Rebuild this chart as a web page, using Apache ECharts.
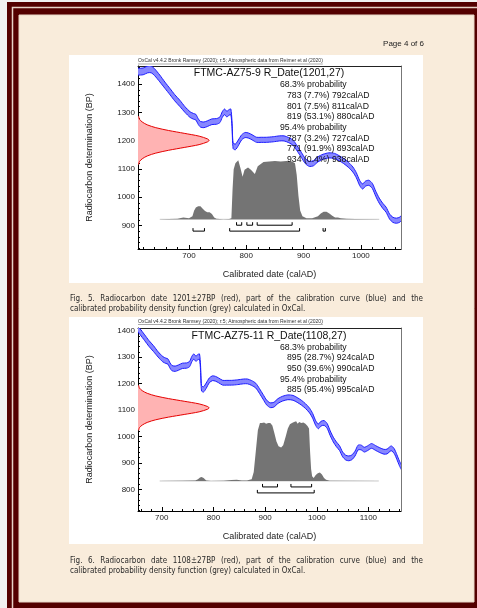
<!DOCTYPE html>
<html><head><meta charset="utf-8">
<script src="https://cdn.jsdelivr.net/npm/echarts@6/dist/echarts.min.js"></script>
<style>html,body{margin:0;padding:0;background:#f1f1f1}#c{width:477px;height:608px}</style>
</head><body><div id="c"></div>
<script>
// ---------------- data ----------------
// IntCal20 calibration curve (calAD, BP, 1-sigma half width)
const calYears = [605,611,620,628,634,640,649,658,667,675,684,693,702,708,712,716,720,726,732,740,748,754,758,762,766,770,773,775,777,781,786,792,798,804,810,818,826,835,847,858,866,874,882,889,896,903,910,917,925,934,944,954,962,970,978,986,992,998,1003,1008,1014,1020,1026,1032,1038,1044,1050,1056,1062,1068,1074,1080,1086,1092,1098,1106,1114,1122,1130,1136,1144,1150,1155,1160,1166];
const calBP    = [1446,1444,1445,1452,1452,1442,1420,1396,1373,1352,1332,1310,1292,1286,1283,1268,1258,1256,1260,1267,1268,1274,1292,1302,1294,1300,1302,1260,1182,1178,1192,1212,1220,1218,1212,1203,1203,1203,1205,1208,1208,1202,1192,1172,1150,1128,1118,1120,1134,1143,1148,1146,1138,1128,1115,1098,1078,1050,1038,1048,1051,1040,1012,988,970,956,932,920,917,921,935,958,958,950,955,964,956,948,942,943,955,944,922,898,875];
const calSigma = [12,12,12,12,12,12,12,11,11,11,11,10,10,10,10,10,10,10,10,10,10,10,10,10,10,10,10,10,10,10,10,9,9,9,9,9,9,9,9,9,9,9,9,9,9,9,9,9,9,9,9,9,9,9,9,9,9,9,9,9,9,9,9,9,9,9,9,9,9,9,9,9,9,9,9,9,9,9,9,9,9,9,9,9,9];

const dates = [1201, 1108];
const redOffsets = [-85,-75,-65,-55,-45,-35,-25,-15,-5,0,5,15,25,35,45,55,65,75,85];
const redDensity = [0.01,0.02,0.06,0.13,0.25,0.43,0.65,0.86,0.98,1,0.98,0.86,0.65,0.43,0.25,0.13,0.06,0.02,0.01];

// calibrated probability (grey), relative heights
const grey1Years = [649,680,690,700,706,709,712,716,720,724,728,732,736,740,744,748,760,770,774,776,778,781,786,790,793.5,797,803,808,815,820,830,840,850,860,870,880,885,888,891,894,898,905,915,925,930,935,940,945,950,955,960,965,975,990,1032];
const grey1Dens  = [0,0.01,0.03,0.02,0.05,0.15,0.2,0.22,0.22,0.18,0.14,0.12,0.12,0.09,0.03,0.01,0,0.005,0.02,0.5,0.85,0.95,1.0,0.86,0.72,0.84,0.88,0.84,0.77,0.9,0.97,0.98,0.99,0.98,0.99,0.98,0.95,0.75,0.4,0.15,0.05,0.02,0.02,0.05,0.1,0.13,0.13,0.1,0.06,0.03,0.03,0.02,0.01,0.005,0];
const grey2Years = [696,740,765,770,774,777,781,786,795,820,835,845,855,865,870,874,878,882,886,890,894,898,902,906,910,914,918,922,926,931,935,940,944,948,952,956,960,963,966,970,974,978,982,985,987,989,991,994,998,1002,1006,1010,1014,1018,1025,1120];
const grey2Dens  = [0,0.005,0.01,0.03,0.06,0.065,0.05,0.01,0,0.005,0.015,0.02,0.01,0.01,0.02,0.03,0.15,0.5,0.85,0.97,0.97,0.98,0.96,0.97,0.97,0.93,0.8,0.66,0.58,0.56,0.6,0.75,0.88,0.95,0.97,0.99,1.0,0.96,0.99,0.97,0.98,0.96,0.92,0.88,0.5,0.2,0.08,0.05,0.1,0.13,0.14,0.11,0.05,0.02,0.005,0];

// calibrated ranges [from, to]
const ranges1_68 = [[783,792],[801,811],[819,880]];
const ranges1_95 = [[707,727],[771,893],[934,938]];
const ranges2_68 = [[895,924],[950,990]];
const ranges2_95 = [[885,995]];

// tick labels
const xTicks1 = [700,800,900,1000];
const yTicks1 = [900,1000,1100,1200,1300,1400];
const xTicks2 = [700,800,900,1000,1100];
const yTicks2 = [800,900,1000,1100,1200,1300,1400];

// texts
const headerText = 'OxCal v4.4.2 Bronk Ramsey (2020); r:5; Atmospheric data from Reimer et al (2020)';
const titles = ['FTMC-AZ75-9 R_Date(1201,27)', 'FTMC-AZ75-11 R_Date(1108,27)'];
const probLines1 = [['68.3% probability',0],['783 (7.7%) 792calAD',1],['801 (7.5%) 811calAD',1],['819 (53.1%) 880calAD',1],['95.4% probability',0],['787 (3.2%) 727calAD',1],['771 (91.9%) 893calAD',1],['934 (0.4%) 938calAD',1]];
const probLines2 = [['68.3% probability',0],['895 (28.7%) 924calAD',1],['950 (39.6%) 990calAD',1],['95.4% probability',0],['885 (95.4%) 995calAD',1]];
const captions = [
  ['Fig. 5. Radiocarbon date 1201±27BP (red), part of the calibration curve (blue) and the', 'calibrated probability density function (grey) calculated in OxCal.'],
  ['Fig. 6. Radiocarbon date 1108±27BP (red), part of the calibration curve (blue) and the', 'calibrated probability density function (grey) calculated in OxCal.']
];
const pageLabel = 'Page 4 of 6';

// ---------------- layout / style ----------------
const FC = '"Liberation Sans", Arial, sans-serif';
const FCAP = '"DejaVu Sans Condensed", "Liberation Sans Narrow", "DejaVu Sans", sans-serif';
const meas = document.createElement('canvas').getContext('2d');
function tw(t, size, fam) { meas.font = size + 'px ' + fam; return meas.measureText(t).width; }

const panels = [
  { top: 66, xMin: 611, xMax: 1070, yMin: 817, yMax: 1464, gMin: -0.503, gMax: 2.598,
    xTicks: xTicks1, yTicks: yTicks1, date: dates[0], gy: grey1Years, gd: grey1Dens,
    r68: ranges1_68, r95: ranges1_95, box: [69, 55, 354, 228], lines: probLines1,
    titleY: 73.5, lineY0: 85, headerY: 61, capY: 298.5 },
  { top: 328, xMin: 654, xMax: 1163, yMin: 718, yMax: 1410, gMin: -0.503, gMax: 2.563,
    xTicks: xTicks2, yTicks: yTicks2, date: dates[1], gy: grey2Years, gd: grey2Dens,
    r68: ranges2_68, r95: ranges2_95, box: [69, 317, 354, 227], lines: probLines2,
    titleY: 336.5, lineY0: 347.3, headerY: 321.5, capY: 560.5 }
];
const GL = 138, GW = 263, GH = 183;

function range(a, b, s) { const r = []; for (let v = a; v <= b; v += s) r.push(v); return r; }
const plain = v => String(v);

const grids = [], xAxes = [], yAxes = [], series = [], graphics = [];

// page frame
graphics.push({ type: 'rect', z: -20, shape: { x: 0, y: 0, width: 477, height: 608 }, style: { fill: '#f1f1f1' } });
graphics.push({ type: 'rect', z: -19, shape: { x: 7, y: 2, width: 480, height: 620 }, style: { fill: '#540000' } });
graphics.push({ type: 'rect', z: -18, shape: { x: 12.5, y: 7.5, width: 480, height: 620 }, style: { fill: null, stroke: '#e6d3c8', lineWidth: 1.5 } });
graphics.push({ type: 'rect', z: -17, shape: { x: 19, y: 15, width: 455, height: 587 }, style: { fill: '#f9ecdb', stroke: '#e8d8c8', lineWidth: 1 } });
graphics.push({ type: 'text', z: 50, style: { text: pageLabel, x: 424, y: 44, textAlign: 'right', textVerticalAlign: 'middle', fontSize: 8, fontFamily: FC, fill: '#222' } });

panels.forEach((p, i) => {
  const xb = i * 4, yb = i * 4;
  grids.push({ left: GL, top: p.top, width: GW, height: GH, containLabel: false });
  graphics.push({ type: 'rect', z: -10, shape: { x: p.box[0], y: p.box[1], width: p.box[2], height: p.box[3] }, style: { fill: '#ffffff' } });

  // x axes: main, minor ticks, top frame, hidden red-profile axis
  xAxes.push({ type: 'value', gridIndex: i, position: 'bottom', min: p.xMin, max: p.xMax,
    axisLine: { onZero: false, lineStyle: { color: '#000', width: 1 } },
    axisTick: { inside: true, length: 4, customValues: p.xTicks, lineStyle: { color: '#000' } },
    axisLabel: { customValues: p.xTicks, formatter: plain, margin: 3, fontSize: 8, color: '#222', fontFamily: FC },
    splitLine: { show: false },
    name: 'Calibrated date (calAD)', nameLocation: 'middle', nameGap: 21,
    nameTextStyle: { fontSize: 9, fontFamily: FC, color: '#222' } });
  xAxes.push({ type: 'value', gridIndex: i, position: 'bottom', min: p.xMin, max: p.xMax,
    axisLine: { show: false, onZero: false },
    axisTick: { inside: true, length: 2, customValues: range(Math.ceil(p.xMin / 20) * 20, p.xMax, 20), lineStyle: { color: '#000' } },
    axisLabel: { show: false }, splitLine: { show: false } });
  xAxes.push({ type: 'value', gridIndex: i, position: 'top', min: p.xMin, max: p.xMax,
    axisLine: { onZero: false, lineStyle: { color: '#222', width: 1 } },
    axisTick: { show: false }, axisLabel: { show: false }, splitLine: { show: false } });
  xAxes.push({ type: 'value', gridIndex: i, show: false, min: 0, max: 3.70, axisLine: { onZero: false } });

  // y axes: main, minor ticks, right frame, hidden grey-density axis
  yAxes.push({ type: 'value', gridIndex: i, position: 'left', min: p.yMin, max: p.yMax,
    axisLine: { onZero: false, lineStyle: { color: '#000', width: 1 } },
    axisTick: { inside: true, length: 4, customValues: p.yTicks, lineStyle: { color: '#000' } },
    axisLabel: { customValues: p.yTicks, formatter: plain, margin: 3, fontSize: 8, color: '#222', fontFamily: FC },
    splitLine: { show: false },
    name: 'Radiocarbon determination (BP)', nameLocation: 'middle', nameGap: 44, nameRotate: 90,
    nameTextStyle: { fontSize: 9, fontFamily: FC, color: '#222' } });
  yAxes.push({ type: 'value', gridIndex: i, position: 'left', min: p.yMin, max: p.yMax,
    axisLine: { show: false, onZero: false },
    axisTick: { inside: true, length: 2, customValues: range(Math.ceil(p.yMin / 20) * 20, p.yMax, 20), lineStyle: { color: '#000' } },
    axisLabel: { show: false }, splitLine: { show: false } });
  yAxes.push({ type: 'value', gridIndex: i, position: 'right', min: p.yMin, max: p.yMax,
    axisLine: { onZero: false, lineStyle: { color: '#777', width: 1 } },
    axisTick: { show: false }, axisLabel: { show: false }, splitLine: { show: false } });
  yAxes.push({ type: 'value', gridIndex: i, show: false, min: p.gMin, max: p.gMax, axisLine: { onZero: false } });

  // red: radiocarbon measurement profile
  series.push({ type: 'custom', name: 'date', xAxisIndex: xb + 3, yAxisIndex: yb, clip: true, silent: true, z: 3,
    data: redOffsets.map((o, k) => [redDensity[k], p.date + o]),
    encode: { x: 0, y: 1 },
    renderItem: (params, api) => {
      if (params.dataIndex !== 0) return null;
      const pts = redOffsets.map((o, k) => api.coord([redDensity[k], p.date + o]));
      const poly = [api.coord([0, p.date + redOffsets[0]])].concat(pts, [api.coord([0, p.date + redOffsets[redOffsets.length - 1]])]);
      return { type: 'group', children: [
        { type: 'polygon', shape: { points: poly, smooth: 0.3 }, style: { fill: '#ffb3b3' } },
        { type: 'polyline', shape: { points: pts, smooth: 0.3 }, style: { stroke: '#e60000', lineWidth: 1, fill: null } }
      ] };
    } });

  // blue: calibration curve band
  series.push({ type: 'custom', name: 'cal', xAxisIndex: xb, yAxisIndex: yb, clip: true, silent: true, z: 4,
    data: calYears.map((y, k) => [y, calBP[k] - calSigma[k], calBP[k] + calSigma[k]]),
    encode: { x: 0, y: [1, 2] },
    renderItem: (params, api) => {
      if (params.dataIndex !== 0) return null;
      const up = calYears.map((y, k) => api.coord([y, calBP[k] + calSigma[k]]));
      const dn = calYears.map((y, k) => api.coord([y, calBP[k] - calSigma[k]]));
      const poly = up.concat(dn.slice().reverse());
      return { type: 'group', children: [
        { type: 'polygon', shape: { points: poly }, style: { fill: '#8787ff' } },
        { type: 'polyline', shape: { points: up, smooth: 0.25 }, style: { stroke: '#1c1cff', lineWidth: 1, fill: null } },
        { type: 'polyline', shape: { points: dn, smooth: 0.25 }, style: { stroke: '#1c1cff', lineWidth: 1, fill: null } }
      ] };
    } });

  // grey baseline
  series.push({ type: 'line', xAxisIndex: xb, yAxisIndex: yb + 3, silent: true, symbol: 'none', z: 5,
    data: [[p.gy[0], 0], [p.gy[p.gy.length - 1], 0]], lineStyle: { color: '#c8c8c8', width: 1 } });

  // grey: calibrated distribution
  series.push({ type: 'custom', name: 'prob', xAxisIndex: xb, yAxisIndex: yb + 3, clip: true, silent: true, z: 6,
    data: p.gy.map((y, k) => [y, p.gd[k]]),
    encode: { x: 0, y: 1 },
    renderItem: (params, api) => {
      if (params.dataIndex !== 0) return null;
      const pts = p.gy.map((y, k) => api.coord([y, p.gd[k]]));
      return { type: 'polygon', shape: { points: pts }, style: { fill: '#747474' } };
    } });

  // range brackets
  const br = p.r68.map(r => [r[0], r[1], -0.1]).concat(p.r95.map(r => [r[0], r[1], -0.2]));
  series.push({ type: 'custom', name: 'ranges', xAxisIndex: xb, yAxisIndex: yb + 3, silent: true, z: 6,
    data: br, encode: { x: [0, 1], y: 2 },
    renderItem: (params, api) => {
      const a = api.coord([api.value(0), api.value(2)]);
      const b = api.coord([api.value(1), api.value(2)]);
      return { type: 'polyline', shape: { points: [[a[0], a[1] - 3], a, b, [b[0], b[1] - 3]] },
        style: { stroke: '#000', lineWidth: 1, fill: null } };
    } });

  // header (underlined)
  const hw = tw(headerText, 5, FC);
  graphics.push({ type: 'text', z: 50, style: { text: headerText, x: 138, y: p.headerY, textAlign: 'left', textVerticalAlign: 'middle', fontSize: 5, fontFamily: FC, fill: '#333' } });
  graphics.push({ type: 'line', z: 50, shape: { x1: 138, y1: p.headerY + 3, x2: 138 + hw, y2: p.headerY + 3 }, style: { stroke: '#555', lineWidth: 0.5 } });
  // title and probability ranges
  graphics.push({ type: 'text', z: 50, style: { text: titles[i], x: 269, y: p.titleY, textAlign: 'center', textVerticalAlign: 'middle', fontSize: 10.5, fontFamily: FC, fill: '#111' } });
  p.lines.forEach((l, k) => {
    graphics.push({ type: 'text', z: 50, style: { text: l[0], x: l[1] ? 287 : 280, y: p.lineY0 + k * 10.65, textAlign: 'left', textVerticalAlign: 'middle', fontSize: 8.7, fontFamily: FC, fill: '#111' } });
  });
  // caption: first line justified between 70 and 423
  const words = captions[i][0].split(' ');
  const cs = 8;
  const wsum = words.reduce((s, w) => s + tw(w, cs, FCAP), 0);
  const gap = (423 - 70 - wsum) / (words.length - 1);
  let cx = 70;
  words.forEach(w => {
    graphics.push({ type: 'text', z: 50, style: { text: w, x: cx, y: p.capY, textAlign: 'left', textVerticalAlign: 'middle', fontSize: cs, fontFamily: FCAP, fill: '#2a2a2a' } });
    cx += tw(w, cs, FCAP) + gap;
  });
  graphics.push({ type: 'text', z: 50, style: { text: captions[i][1], x: 70, y: p.capY + 10, textAlign: 'left', textVerticalAlign: 'middle', fontSize: cs, fontFamily: FCAP, fill: '#2a2a2a' } });
});

const chart = echarts.init(document.getElementById('c'), null, { renderer: 'canvas' });
chart.setOption({
  animation: false,
  backgroundColor: '#f1f1f1',
  grid: grids, xAxis: xAxes, yAxis: yAxes, series: series,
  graphic: { elements: graphics }
});
</script></body></html>
